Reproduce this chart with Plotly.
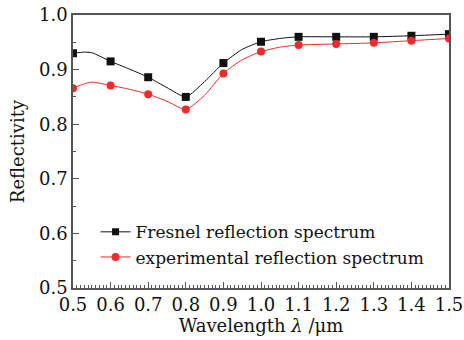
import plotly.graph_objects as go

wl = [0.5, 0.6, 0.7, 0.8, 0.9, 1.0, 1.1, 1.2, 1.3, 1.4, 1.5]
fresnel = [0.930, 0.915, 0.886, 0.850, 0.912, 0.951, 0.960, 0.960, 0.960, 0.962, 0.965]
experimental = [0.866, 0.871, 0.855, 0.827, 0.893, 0.933, 0.945, 0.947, 0.949, 0.953, 0.957]

# denser read-off points of the continuous curves
wl_line = [0.5, 0.53, 0.55, 0.6, 0.65, 0.7, 0.75, 0.8, 0.85, 0.9, 0.95, 1.0, 1.05, 1.1, 1.2, 1.3, 1.4, 1.5]
fresnel_line = [0.930, 0.932, 0.931, 0.915, 0.901, 0.886, 0.867, 0.850, 0.878, 0.912, 0.937, 0.951, 0.957, 0.960, 0.960, 0.960, 0.962, 0.965]
exp_line = [0.866, 0.874, 0.877, 0.871, 0.864, 0.855, 0.842, 0.827, 0.853, 0.893, 0.918, 0.933, 0.941, 0.945, 0.947, 0.949, 0.953, 0.957]

x_ticks = ["0.5", "0.6", "0.7", "0.8", "0.9", "1.0", "1.1", "1.2", "1.3", "1.4", "1.5"]
y_vals = [0.5, 0.6, 0.7, 0.8, 0.9, 1.0]
y_ticks = ["0.5", "0.6", "0.7", "0.8", "0.9", "1.0"]
series_names = ["Fresnel reflection spectrum", "experimental reflection spectrum"]

BLACK = "#111111"
RED = "#ee2a2a"
FONT = "DejaVu Serif"
TXT = "#111111"

fig = go.Figure()
fig.add_trace(go.Scatter(x=wl_line, y=fresnel_line, mode="lines", line=dict(color=BLACK, width=1, shape="spline", smoothing=0.6), showlegend=False, hoverinfo="skip"))
fig.add_trace(go.Scatter(x=wl_line, y=exp_line, mode="lines", line=dict(color=RED, width=1, shape="spline", smoothing=0.6), showlegend=False, hoverinfo="skip"))
fig.add_trace(go.Scatter(x=wl, y=fresnel, mode="markers", showlegend=False,
                         marker=dict(symbol="square", size=8, color=BLACK)))
fig.add_trace(go.Scatter(x=wl, y=experimental, mode="markers", showlegend=False,
                         marker=dict(symbol="circle", size=8, color=RED)))
# legend entries (line + marker)
fig.add_trace(go.Scatter(x=[None], y=[None], mode="lines+markers", name=series_names[0],
                         marker=dict(symbol="square", size=7, color=BLACK), line=dict(color=BLACK, width=1)))
fig.add_trace(go.Scatter(x=[None], y=[None], mode="lines+markers", name=series_names[1],
                         marker=dict(symbol="circle", size=8, color=RED), line=dict(color=RED, width=1)))

axis_common = dict(
    showline=True, linecolor="#555555", linewidth=1.5, mirror=True,
    ticks="inside", ticklen=6, tickcolor="#555555", tickwidth=1,
    showgrid=False, zeroline=False, automargin=False,
    tickfont=dict(family=FONT, size=18, color=TXT),
)

fig.update_xaxes(range=[0.5, 1.5], tickvals=wl, ticktext=x_ticks, ticklabeloverflow="allow",
                 minor=dict(dtick=0.01, ticks="inside", ticklen=3, tickcolor="#555555"),
                 title=dict(text="Wavelength <i>λ</i> /μm", font=dict(family=FONT, size=18, color=TXT), standoff=0),
                 **axis_common)
fig.update_yaxes(range=[0.5, 1.0], tickvals=y_vals, ticktext=y_ticks, ticklabeloverflow="allow",
                 minor=dict(dtick=0.05, ticks="inside", ticklen=3, tickcolor="#555555"),
                 title=dict(text="Reflectivity", font=dict(family=FONT, size=18, color=TXT), standoff=10),
                 **axis_common)

fig.update_layout(
    width=464, height=340,
    margin=dict(l=73, r=15, t=15, b=52),
    plot_bgcolor="white", paper_bgcolor="white",
    legend=dict(x=0.06, y=0.27, xanchor="left", yanchor="top", bgcolor="rgba(0,0,0,0)",
                font=dict(family=FONT, size=17, color=TXT), tracegroupgap=0, itemwidth=30),
)

fig.write_html("out.html")
